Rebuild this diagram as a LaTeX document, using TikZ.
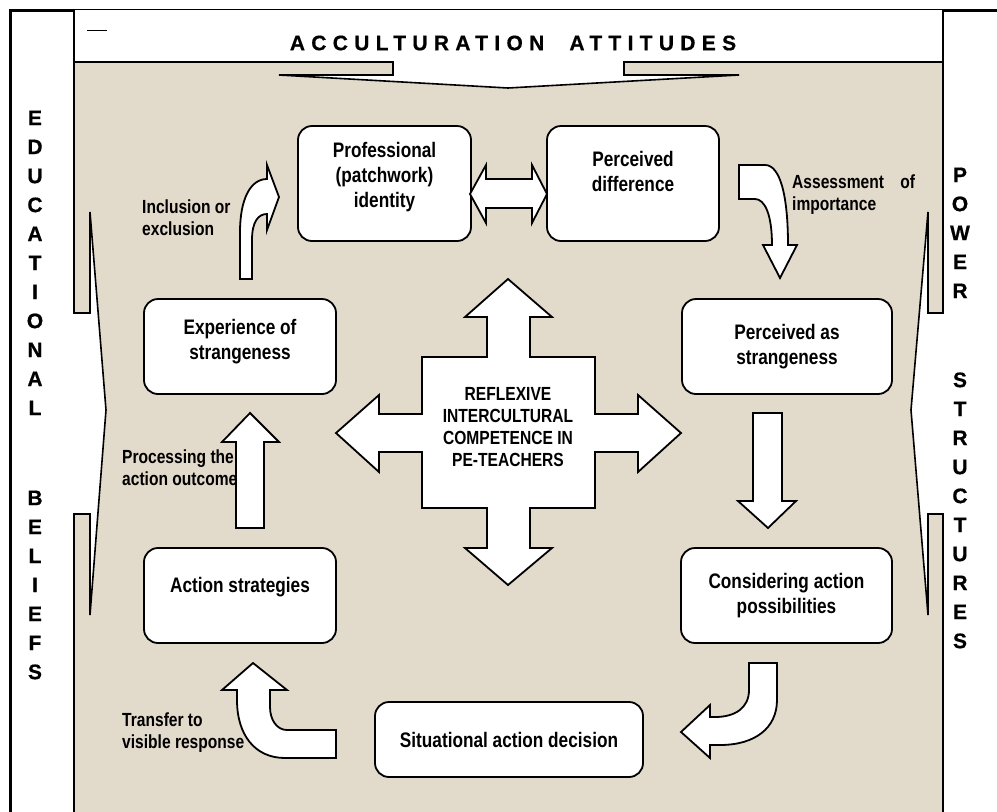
\documentclass[tikz,border=0pt]{standalone}
\usepackage{fontspec}
\setmainfont{Liberation Sans}
\newfontfamily\narrowsans{Liberation Sans}[FakeStretch=0.82]
\newfontfamily\widesans{Liberation Sans}[LetterSpace=30, FakeBold=0.6]
\newfontfamily\heavysans{Liberation Sans}[FakeBold=0.6]
\usetikzlibrary{positioning}
\definecolor{ink}{HTML}{000000}
\definecolor{sand}{HTML}{E2DACB}

\begin{document}
\begin{tikzpicture}[
  x=1pt, y=-1pt,
  box/.style={draw=ink, fill=white, rounded corners=14pt, line width=1.8pt, align=center, inner sep=0pt, font=\narrowsans\bfseries\fontsize{21}{25}\selectfont},
  bigarrow/.style={draw=ink, fill=white, line width=1.8pt},
  note/.style={align=left, inner sep=0pt, anchor=west, font=\narrowsans\bfseries\fontsize{19}{22}\selectfont},
  sideword/.style={align=center, inner sep=0pt, font=\heavysans\bfseries\fontsize{21}{29}\selectfont},
  frame/.style={draw=ink, line width=1.6pt}
]
  \useasboundingbox (0,0) rectangle (997,812);
  \fill[white] (0,0) rectangle (997,812);

  % Frames — outer border, banner, sand field with the three callouts
  \draw[ink, line width=3pt] (10,830) -- (10,10) -- (1010,10);
  \fill[white] (74,10) rectangle (943,62);
  \draw[frame] (74,62) -- (74,10);
  \draw[frame] (943,10) -- (943,62);
  \filldraw[frame, fill=sand] (74,830) -- (74,514) -- (90,514) -- (90,615) -- (106,410) -- (90,212)
    -- (90,313) -- (74,313) -- (74,62) -- (393,62) -- (393,75) -- (279,75) -- (508,88)
    -- (739,75) -- (624,75) -- (624,62) -- (943,62) -- (943,313) -- (928,313) -- (928,212)
    -- (911,410) -- (928,615) -- (928,514) -- (943,514) -- (943,830) -- cycle;
  \draw[ink, line width=0.8pt] (87,30) -- (107,30);

  % Side words and title
  \node[font=\widesans\bfseries\fontsize{21}{25}\selectfont] (title) at (513,43) {ACCULTURATION\hspace{13pt} ATTITUDES};
  \node[sideword] (educ) at (35,395) {E\\D\\U\\C\\A\\T\\I\\O\\N\\A\\L\\[61pt]B\\E\\L\\I\\E\\F\\S};
  \node[sideword] (power) at (960,408) {P\\O\\W\\E\\R\\[60pt]S\\T\\R\\U\\C\\T\\U\\R\\E\\S};

  % Arrow labels (under the arrows)
  \node[note] (incl) at (142,218) {Inclusion or\\exclusion};
  \node[note, text width=123pt] (assess) at (792,195) {Assessment\hfill of\\importance};
  \node[note] (process) at (122,468) {Processing the\\action outcome};
  \node[note] (transfer) at (122,733) {Transfer to\\visible response};

  % Row 1
  \node[box, minimum width=173pt, minimum height=115pt] (prof) at (384.5,183.5) {Professional\\(patchwork)\\identity\\[-8pt]\mbox{}};
  \node[box, minimum width=172pt, minimum height=115pt] (diff) at (633,183.5) {Perceived\\difference\\[0pt]\mbox{}};

  % Row 2
  \node[box, minimum width=192pt, minimum height=95pt] (exper) at (240,346.5) {Experience of\\strangeness\\[-10pt]\mbox{}};
  \node[box, minimum width=210pt, minimum height=95pt] (strange) at (787,346.5) {Perceived as\\strangeness};

  % Row 3
  \node[box, minimum width=192pt, minimum height=95pt] (strat) at (240,595.5) {Action strategies\\[-4pt]\mbox{}};
  \node[box, minimum width=211pt, minimum height=95pt] (consider) at (786.5,595.5) {Considering action\\possibilities};

  % Row 4
  \node[box, minimum width=268pt, minimum height=75pt] (decide) at (509,739.5) {Situational action decision};

  % block arrows round the cycle
  \filldraw[bigarrow] (240,279) -- (240,232) .. controls (240,200) and (250,179) .. (267,179) -- (267,165)
    -- (279,197) -- (267,230) -- (267,214) .. controls (258,214) and (252,222) .. (252,240) -- (252,279) -- cycle;
  \filldraw[bigarrow] (470,194) -- (486,165) -- (486,179) -- (532,179) -- (532,165) -- (547,194)
    -- (532,223) -- (532,208) -- (486,208) -- (486,223) -- cycle;
  \filldraw[bigarrow] (739,165) -- (765,165) .. controls (780,165) and (788,195) .. (788,245) -- (797,245)
    -- (780,278) -- (763,245) -- (772,245) .. controls (772,215) and (765,199) .. (755,199) -- (739,199) -- cycle;
  \filldraw[bigarrow] (753,413) -- (753,501) -- (738,501) -- (768,528) -- (796,501) -- (782,501) -- (782,413) -- cycle;
  \filldraw[bigarrow] (749,663) -- (749,690) .. controls (749,708) and (735,717) .. (715,717) -- (710,717) -- (710,705)
    -- (681,732) -- (710,758) -- (710,745) -- (720,745) .. controls (755,745) and (777,728) .. (777,700) -- (777,663) -- cycle;
  \filldraw[bigarrow] (336,730) -- (287,730) .. controls (277,730) and (270,720) .. (270,707) -- (270,690) -- (287,690)
    -- (253,663) -- (222,690) -- (237,690) -- (237,700) .. controls (237,735) and (255,758) .. (285,758) -- (336,758) -- cycle;
  \filldraw[bigarrow] (236,528) -- (236,442) -- (222,442) -- (250,413) -- (279,442) -- (264,442) -- (264,528) -- cycle;

  % Hub — four-way arrow
  \filldraw[bigarrow] (508,279) -- (552,317) -- (530,317) -- (530,357) -- (595,357) -- (595,414) -- (638,414)
    -- (638,395) -- (681,433) -- (638,472) -- (638,452) -- (595,452) -- (595,508) -- (530,508) -- (530,548)
    -- (552,548) -- (508,585) -- (465,548) -- (487,548) -- (487,508) -- (422,508) -- (422,452) -- (379,452)
    -- (379,472) -- (336,433) -- (379,395) -- (379,414) -- (422,414) -- (422,357) -- (487,357) -- (487,317)
    -- (465,317) -- cycle;
  \node[align=center, inner sep=0pt, font=\narrowsans\bfseries\fontsize{19}{22}\selectfont] (hub) at (508,427) {REFLEXIVE\\INTERCULTURAL\\COMPETENCE IN\\PE-TEACHERS};
\end{tikzpicture}
\end{document}
